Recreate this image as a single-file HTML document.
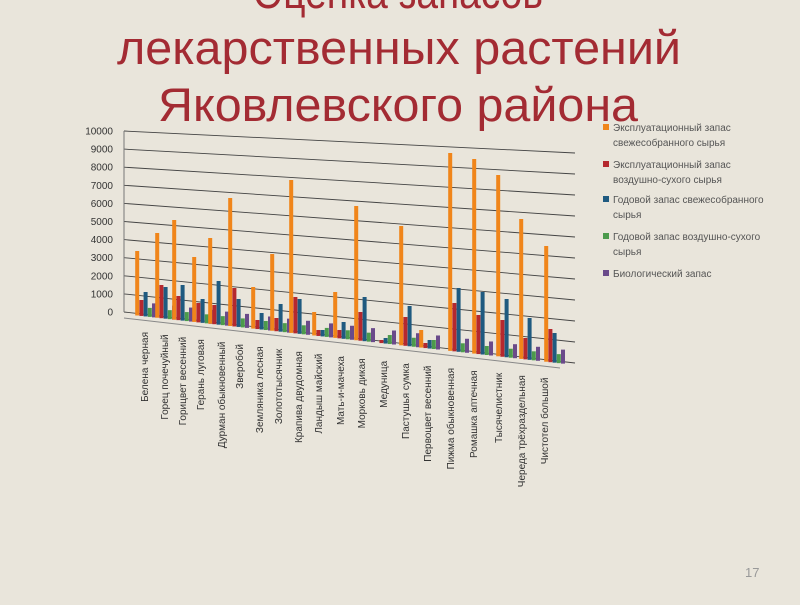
<!DOCTYPE html>
<html><head><meta charset="utf-8"><style>
body{margin:0;background:#e9e5db;width:800px;height:600px;overflow:hidden;font-family:"Liberation Sans",sans-serif}
</style></head><body>
<svg id="s" width="800" height="600" xmlns="http://www.w3.org/2000/svg" font-family="Liberation Sans, sans-serif">
<rect width="800" height="600" fill="#e9e5db"/>
<g fill="#a32b33" font-size="47" text-anchor="middle">
<text x="398" y="8" textLength="290" lengthAdjust="spacingAndGlyphs">Оценка запасов</text>
<text x="399" y="64" textLength="564" lengthAdjust="spacingAndGlyphs">лекарственных растений</text>
<text x="398" y="121" textLength="480" lengthAdjust="spacingAndGlyphs">Яковлевского района</text>
</g>
<text x="745" y="577" font-size="13" fill="#999">17</text>
<g id="g"></g>
</svg>
<script>
var g=document.getElementById('g'),h='';
function base(x){return 312+(x-124)*51/451;}
for(var k=0;k<=10;k++){var y1=312-(181)*k/10,y2=363-210*k/10;
h+='<line x1="124" y1="'+y1+'" x2="575" y2="'+y2+'" stroke="#444" stroke-width="0.9"/>';
h+='<text x="113" y="'+(y1+3.5)+'" font-size="10" fill="#333" text-anchor="end">'+(k*1000)+'</text>';}
h+='<line x1="124" y1="131" x2="124" y2="312" stroke="#777"/>';
h+='<line x1="124" y1="318" x2="560" y2="368" stroke="#888"/>';
var xs=[137,157,174,194,210,230,253,272,291,314,335,356,377,401,421,450,474,498,521,546];
var o=[251,233,220,257,238,198,287,254,180,312,292,206,352,226,330,153,159,175,219,246];
var r=[300,285,296,303,305,288,320,318,297,330,330,312,340,317,343,303,315,320,338,329];
var b=[292,287,285,299,281,299,313,304,299,330,322,297,338,306,340,288,292,299,318,333];
var cols=['#f0851a','#b5282e','#1f5a80','#4c9a4c','#6a4a8a'];
var names=['Белена черная','Горец почечуйный','Горицвет весенний','Герань луговая','Дурман обыкновенный','Зверобой','Земляника лесная','Золототысячник','Крапива двудомная','Ландыш майский','Мать-и-мачеха','Морковь дикая','Медуница','Пастушья сумка','Первоцвет весенний','Пижма обыкновенная','Ромашка аптечная','Тысячелистник','Череда трёхраздельная','Чистотел большой'];
for(var i=0;i<20;i++){var x=xs[i];
var tops=[o[i],r[i],b[i],null,null];
for(var s=0;s<5;s++){var bx=x+s*4.2,by=base(bx)+2;var t=tops[s];
if(s==3)t=by-9;if(s==4)t=by-14;if(s>0&&t>by-3)t=by-3;
h+='<rect x="'+(bx-1.8)+'" y="'+t+'" width="4" height="'+(by-t)+'" fill="'+cols[s]+'"/>';}
var lx=[145,165,183,201,222,240,260,279,299,319,341,362,384,406,428,451,474,499,522,545][i];
var ly=332+i*2.4;
h+='<text transform="translate('+(lx+3)+','+ly+') rotate(-90)" font-size="10" fill="#333" text-anchor="end">'+names[i]+'</text>';}
var lg=[[131,'Эксплуатационный запас','свежесобранного сырья'],[168,'Эксплуатационный запас','воздушно-сухого сырья'],[203,'Годовой запас свежесобранного','сырья'],[240,'Годовой запас воздушно-сухого','сырья'],[277,'Биологический запас','']];
for(var j=0;j<5;j++){var y=lg[j][0];
h+='<rect x="603" y="'+(y-7)+'" width="6" height="6" fill="'+cols[j]+'"/>';
h+='<text x="613" y="'+y+'" font-size="10" fill="#555">'+lg[j][1]+'</text>';
if(lg[j][2])h+='<text x="613" y="'+(y+15)+'" font-size="10" fill="#555">'+lg[j][2]+'</text>';}
g.innerHTML=h;
</script>
</body></html>
